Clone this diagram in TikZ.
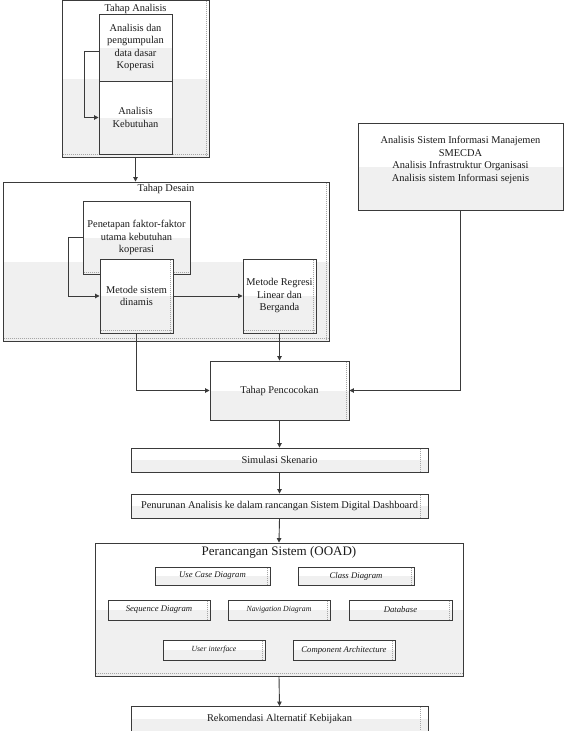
\documentclass[tikz,border=0pt]{standalone}
\usepackage{fontspec}
\setmainfont{Liberation Serif}
\usetikzlibrary{arrows.meta,calc}
\definecolor{ln}{HTML}{3A3A3A}
\definecolor{lo}{HTML}{F0F0F0}
\definecolor{tx}{HTML}{1A1A1A}
\newcommand\myrdot[2]{\draw[dotl] ([xshift=-#2pt,yshift=-1pt]#1.north east) -- ([xshift=-#2pt,yshift=1pt]#1.south east);}
\newcommand\mybdot[2]{\draw[dotl] ([yshift=#2pt,xshift=1pt]#1.south west) -- ([yshift=#2pt,xshift=-1pt]#1.south east);}
\begin{document}
\begin{tikzpicture}[x=1pt,y=-1pt,
  box/.style={draw=ln, line width=0.9pt, fill=white, inner sep=1pt, align=center, text=tx,
     font=\fontsize{10.4}{12.5}\selectfont,
     path picture={\fill[lo] (path picture bounding box.west) rectangle (path picture bounding box.south east);}},
  small/.style={box, font=\fontsize{8.7}{10}\itshape\selectfont},
  title/.style={text=tx, inner sep=0pt, font=\fontsize{10.4}{12}\selectfont},
  lbl/.style={text=tx, inner sep=0pt, align=center, font=\fontsize{10.4}{12.5}\selectfont},
  conn/.style={draw=ln, line width=0.9pt, -{Triangle[length=4.5pt,width=4.5pt]}},
  dotl/.style={draw=gray!70, line width=1pt, densely dotted}
]
\useasboundingbox (0,0) rectangle (564,731);
\fill[white] (0,0) rectangle (564,731);

% Tahap Analisis
\node[box, minimum width=147pt, minimum height=157pt] (tA) at (135.5,78.5) {};
\myrdot{tA}{2.5}\mybdot{tA}{2.5}
\node[title] (tAt) at (135.5,9) {Tahap Analisis};
\node[box, minimum width=73pt, minimum height=73pt] (a2) at (135.5,117.5) {Analisis\\Kebutuhan};
\node[box, minimum width=73pt, minimum height=67pt] (a1) at (135.5,47.5) {Analisis dan\\pengumpulan\\data dasar\\Koperasi};
\draw[conn] ([yshift=-3.5pt]a1.west) -- ++(-14,0) |- (a2.west);

% Tahap Desain
\node[box, minimum width=326pt, minimum height=159pt] (tD) at (166,261.5) {};
\myrdot{tD}{2.5}\mybdot{tD}{2.5}
\node[title] (tDt) at (166,189) {Tahap Desain};
\node[box, minimum width=107pt, minimum height=73pt] (p) at (136.5,237.5) {Penetapan faktor-faktor\\utama kebutuhan\\koperasi};
\mybdot{p}{2}
\node[box, minimum width=73pt, minimum height=74pt] (m) at (136.5,296) {Metode sistem\\dinamis};
\myrdot{m}{2.5}\mybdot{m}{2.5}
\node[box, minimum width=73pt, minimum height=74pt] (r) at (279.5,296) {Metode Regresi\\Linear dan\\Berganda};
\myrdot{r}{2.5}\mybdot{r}{2.5}
\draw[conn] (p.west) -- ++(-14,0) |- (m.west);
\draw[conn] (m.east) -- (r.west);
\draw[conn] (tA.south -| a2.south) -- (a2.south |- tD.north);

% right box
\node[box, minimum width=205pt, minimum height=87pt] (sim) at (460.5,166.5) {};
\node[lbl] (simt) at (460.5,160) {Analisis Sistem Informasi Manajemen\\SMECDA\\Analisis Infrastruktur Organisasi\\Analisis sistem Informasi sejenis};

% Tahap Pencocokan
\node[box, minimum width=139pt, minimum height=59pt] (pc) at (279.5,390.5) {Tahap Pencocokan};
\myrdot{pc}{3}
\draw[conn] (m.south) |- (pc.west);
\draw[conn] (r.south) -- (pc.north);
\draw[conn] (sim.south) |- (pc.east);

% chain
\node[box, minimum width=297pt, minimum height=24pt] (s1) at (279.5,460) {Simulasi Skenario};
\myrdot{s1}{8}
\node[box, minimum width=297pt, minimum height=24pt] (s2) at (279.5,506) {Penurunan Analisis ke dalam rancangan Sistem Digital Dashboard};
\myrdot{s2}{8}
\draw[conn] (pc.south) -- (s1.north);
\draw[conn] (s1.south) -- (s2.north);

% OOAD
\node[box, minimum width=368pt, minimum height=133pt] (oo) at (279,609.5) {};
\mybdot{oo}{2.5}
\node[title, font=\fontsize{13}{15}\selectfont] (oot) at (279,552) {Perancangan Sistem (OOAD)};
\node[small, minimum width=115pt, minimum height=18pt] (uc) at (212.5,576) {Use Case Diagram};
\myrdot{uc}{3}
\node[small, minimum width=116pt, minimum height=18pt] (cd) at (356,576) {Class Diagram};
\myrdot{cd}{3}
\node[small, minimum width=102pt, minimum height=20pt] (sd) at (159,610) {Sequence Diagram};
\myrdot{sd}{3}
\node[small, minimum width=102pt, minimum height=20pt, font=\fontsize{7.8}{9}\itshape\selectfont] (nd) at (279,610) {Navigation Diagram};
\myrdot{nd}{3}
\node[small, minimum width=103pt, minimum height=20pt] (db) at (400.5,610) {Database};
\myrdot{db}{3}
\node[small, minimum width=102pt, minimum height=20pt, font=\fontsize{7.8}{9}\itshape\selectfont] (ui) at (214,650) {User interface};
\myrdot{ui}{3}
\node[small, minimum width=102pt, minimum height=20pt] (ca) at (344,650) {Component Architecture};
\myrdot{ca}{3}
\draw[conn] (s2.south) -- (oo.north);

% Rekomendasi
\node[box, minimum width=297pt, minimum height=25pt] (rk) at (279.5,719) {Rekomendasi Alternatif Kebijakan};
\myrdot{rk}{8}
\draw[conn] (oo.south) -- (rk.north);
\end{tikzpicture}
\end{document}
